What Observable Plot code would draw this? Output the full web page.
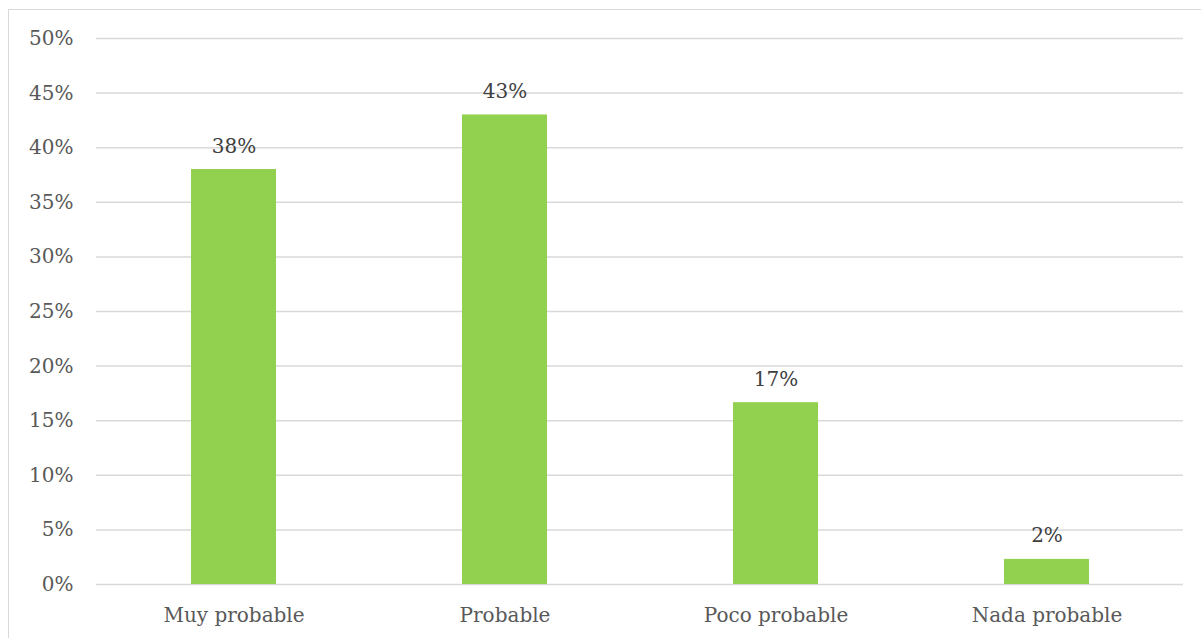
<!DOCTYPE html>
<html>
<head>
<meta charset="utf-8">
<script src="https://cdn.jsdelivr.net/npm/d3@7"></script>
<script src="https://cdn.jsdelivr.net/npm/@observablehq/plot@0.6"></script>
<style>
  html, body { margin: 0; padding: 0; background: #fff; }
  #wrap { position: relative; width: 1201px; height: 638px; overflow: hidden; }
  #border { position: absolute; left: 8px; top: 9px; width: 1300px; height: 700px; border: 1.5px solid #d9d9d9; box-sizing: border-box; }
  #chart { position: absolute; left: 0; top: 0; }
</style>
</head>
<body>
<div id="wrap"><div id="border"></div><div id="chart"></div></div>
<script>
const categories = ["Muy probable", "Probable", "Poco probable", "Nada probable"];
const values = [0.38, 0.43, 0.1665, 0.023];
const yTicks = [0, 0.05, 0.10, 0.15, 0.20, 0.25, 0.30, 0.35, 0.40, 0.45, 0.50];

const data = categories.map((c, i) => ({category: c, value: values[i]}));
const font = "'DejaVu Serif', serif";

const chart = Plot.plot({
  width: 1201,
  height: 638,
  marginLeft: 96,
  marginRight: 18,
  marginTop: 38,
  marginBottom: 54,
  style: {fontFamily: font, fontSize: "20px", color: "#595959", background: "transparent"},
  x: {domain: categories, paddingInner: 0.687, paddingOuter: 0.3435, label: null, tickSize: 0, tickPadding: 23},
  y: {domain: [0, 0.5], ticks: yTicks, tickFormat: d3.format(".0%"), label: null, tickSize: 0, tickPadding: 23},
  marks: [
    Plot.ruleY(yTicks, {stroke: "#d9d9d9", strokeWidth: 1.5, strokeOpacity: 1}),
    Plot.barY(data, {x: "category", y: "value", fill: "#92D050"}),
    Plot.text(data, {x: "category", y: "value", text: d => d3.format(".0%")(d.value), dy: -17, lineAnchor: "bottom", fill: "#404040", fontSize: 20})
  ]
});
document.getElementById("chart").appendChild(chart);
</script>
</body>
</html>
